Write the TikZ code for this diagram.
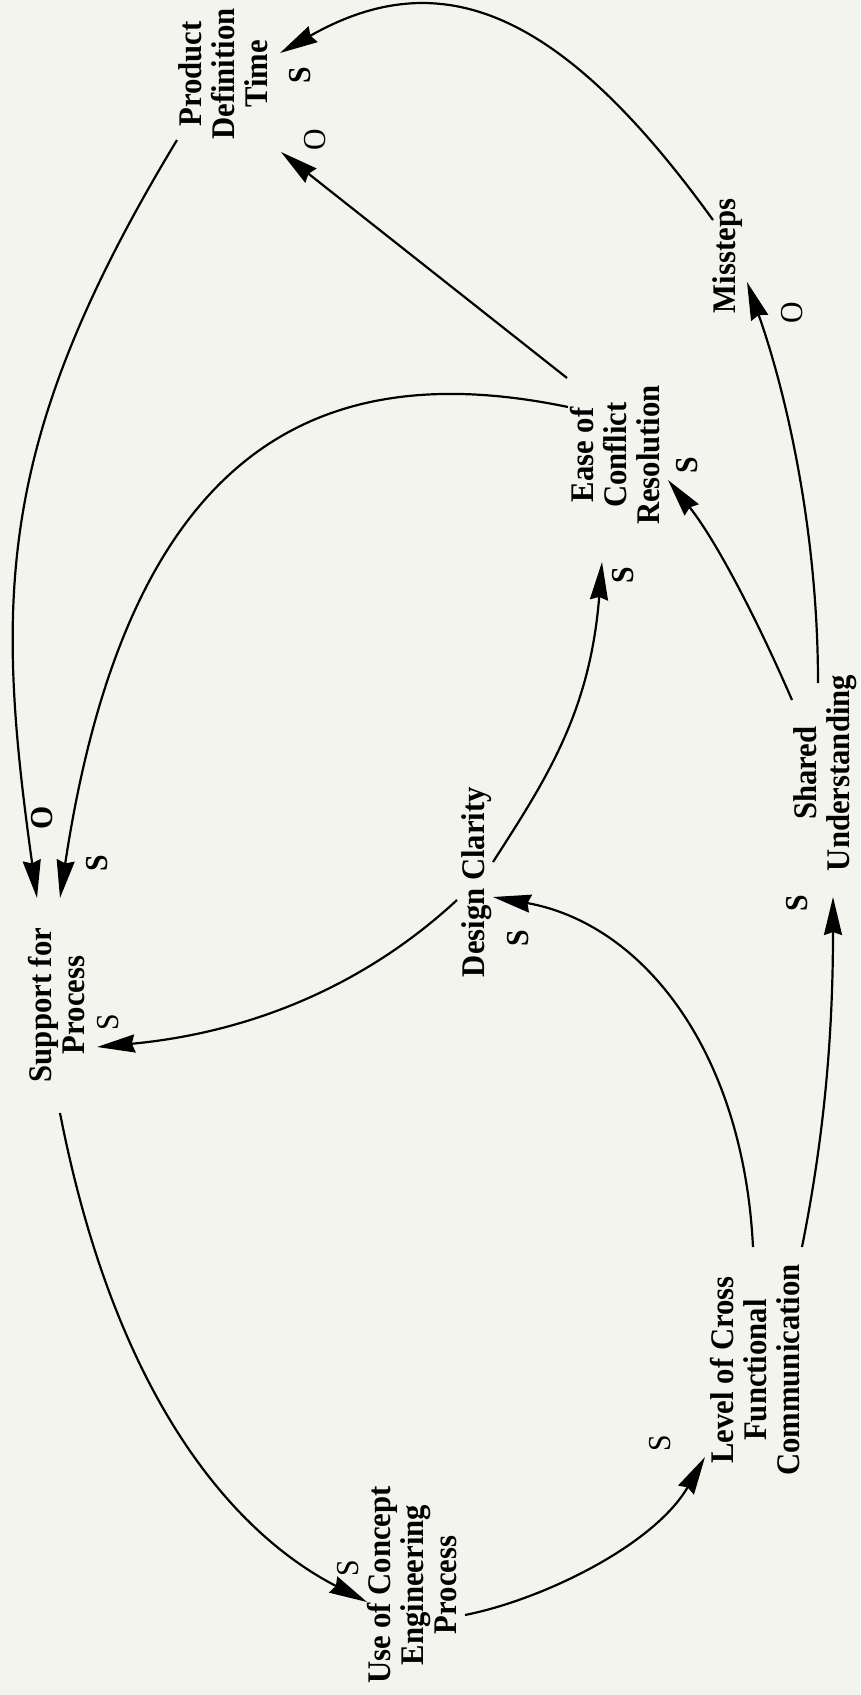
\documentclass[tikz,border=0pt]{standalone}
\usepackage{fontspec}
\setmainfont{Liberation Serif}[FakeStretch=0.93]
\usetikzlibrary{arrows.meta,calc}
\definecolor{bgc}{RGB}{244,244,239}
\begin{document}
\begin{tikzpicture}[x=1pt,y=-1pt,
  var/.style={rotate=90,align=center,inner sep=0pt,font=\fontsize{33}{33}\selectfont\bfseries},
  sgn/.style={rotate=90,inner sep=0pt,font=\fontsize{32}{32}\selectfont\bfseries},
  sgnr/.style={rotate=90,inner sep=0pt,font=\fontsize{32}{32}\selectfont},
  conn/.style={line width=2.2pt,-{Stealth[length=38pt,width=18pt,inset=3pt]}}]
\fill[bgc] (0,0) rectangle (860,1695);
\useasboundingbox (0,0) rectangle (860,1695);
% variables
\node[var] (pdt) at (223,74) {Product\\Definition\\Time};
\node[var] (ms) at (728,256) {Missteps};
\node[var] (ecr) at (615,455) {Ease of\\Conflict\\Resolution};
\node[var] (sfp) at (57,1005) {Support for\\Process};
\node[var] (dc) at (477,882) {Design Clarity};
\node[var] (su) at (825,773) {Shared\\Understanding};
\node[var] (lcfc) at (755,1370) {Level of Cross\\Functional\\Communication};
\node[var] (ucep) at (412,1585) {Use of Concept\\Engineering\\Process};
% polarity labels
\node[sgn] (l1) at (300,75) {S};
\node[sgnr] (l2) at (315,140) {O};
\node[sgnr] (l3) at (792,313) {O};
\node[sgn] (l4) at (687,465) {S};
\node[sgn] (l5) at (623,575) {S};
\node[sgn] (l6) at (42,818) {O};
\node[sgn] (l7) at (97,863) {S};
\node[sgnr] (l8) at (108,1022) {S};
\node[sgn] (l9) at (518,938) {S};
\node[sgn] (l10) at (797,903) {S};
\node[sgnr] (l11) at (660,1443) {S};
\node[sgnr] (l12) at (348,1568) {S};
% connectors
\draw[conn] ($(ms)+(-15,-36)$) .. controls (560,8) and (440,-38) .. ($(pdt)+(57,-21)$);
\draw[conn] ($(ecr)+(-48,-77)$) -- ($(pdt)+(58,78)$);
\draw[conn] ($(pdt)+(-46,66)$) .. controls (-5,441) and (-5,598) .. ($(sfp)+(-20,-107)$);
\draw[conn] ($(ecr)+(-47,-48)$) .. controls (318,355) and (128,448) .. ($(sfp)+(3,-107)$);
\draw[conn] ($(sfp)+(3,108)$) .. controls (127,1456) and (278,1556) .. ($(ucep)+(-45,17)$);
\draw[conn] ($(ucep)+(53,30)$) .. controls (545,1599) and (655,1544) .. ($(lcfc)+(-50,87)$);
\draw[conn] ($(lcfc)+(-2,-123)$) .. controls (743,1047) and (640,923) .. ($(dc)+(16,15)$);
\draw[conn] ($(lcfc)+(47,-123)$) .. controls (822,1147) and (833,1047) .. ($(su)+(8,124)$);
\draw[conn] ($(su)+(-33,-73)$) .. controls (760,626) and (718,543) .. ($(ecr)+(53,25)$);
\draw[conn] ($(su)+(-7,-90)$) .. controls (818,533) and (787,395) .. ($(ms)+(19,26)$);
\draw[conn] ($(dc)+(16,-20)$) .. controls (547,778) and (590,712) .. ($(ecr)+(-13,107)$);
\draw[conn] ($(dc)+(-20,18)$) .. controls (362,988) and (247,1033) .. ($(sfp)+(40,42)$);
\end{tikzpicture}
\end{document}
